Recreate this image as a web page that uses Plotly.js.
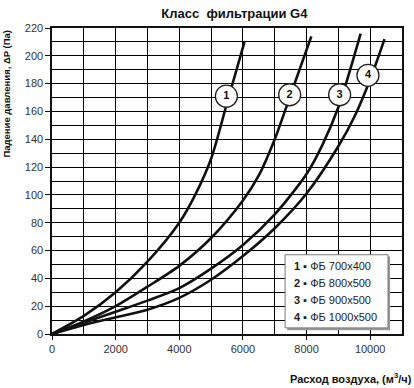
<!DOCTYPE html>
<html>
<head>
<meta charset="utf-8">
<script src="https://cdn.plot.ly/plotly-3.0.1.min.js"></script>
<style>html,body{margin:0;padding:0;background:#fff;}#chart{width:414px;height:388px;}</style>
</head>
<body>
<div id="chart"></div>
<script>
// Data
const flow1 = [0, 1000, 2000, 3000, 4000, 4500, 5000, 5500, 6050];
const dp1   = [0, 13, 30, 52, 80, 100, 126, 166, 210];

const flow2 = [0, 1000, 2000, 3000, 4000, 5000, 6000, 6500, 7000, 7500, 8150];
const dp2   = [0, 9, 20, 34, 49, 69, 96, 114, 140, 172, 214];

const flow3 = [0, 1000, 2000, 3000, 4000, 5000, 6000, 7000, 8000, 8500, 9000, 9700];
const dp3   = [0, 8, 16, 24, 33, 47, 64, 86, 115, 136, 163, 216];

const flow4 = [0, 1000, 2000, 3000, 4000, 5000, 6000, 7000, 8000, 9000, 9500, 10000, 10450];
const dp4   = [0, 6.5, 12, 17.5, 26, 39, 56, 76, 101, 135, 156, 183, 212];

const labelFlow = [5480, 7470, 9040, 9930];
const labelDp   = [171, 172, 172, 186];
const labelText = ['1', '2', '3', '4'];

const legendLines = [
  '<b>1 ▪</b> ФБ 700x400',
  '<b>2 ▪</b> ФБ 800x500',
  '<b>3 ▪</b> ФБ 900x500',
  '<b>4 ▪</b> ФБ 1000x500'
];

const FONT = '"Liberation Sans", Arial, sans-serif';
const curveStyle = {color: '#111', width: 2.6, shape: 'spline', smoothing: 0.8};

const traces = [
  {x: flow1, y: dp1, mode: 'lines', line: curveStyle, hoverinfo: 'skip'},
  {x: flow2, y: dp2, mode: 'lines', line: curveStyle, hoverinfo: 'skip'},
  {x: flow3, y: dp3, mode: 'lines', line: curveStyle, hoverinfo: 'skip'},
  {x: flow4, y: dp4, mode: 'lines', line: curveStyle, hoverinfo: 'skip'},
  {x: labelFlow, y: labelDp, mode: 'markers+text', text: labelText,
   textposition: 'middle center',
   textfont: {family: FONT, size: 11, color: '#111', weight: 'bold'},
   marker: {size: 22, color: '#fff', line: {color: '#222', width: 1.3}},
   hoverinfo: 'skip'}
];

const gridC = '#000';
const legendTop = 0.221, legendStep = 0.055;
const annotations = legendLines.map((t, i) => ({
  xref: 'x domain', yref: 'y domain', x: 0.686, y: legendTop - i * legendStep,
  xanchor: 'left', yanchor: 'middle', text: t, showarrow: false,
  font: {family: FONT, size: 11, color: '#222'}
}));
annotations.push({
  xref: 'paper', yref: 'paper', x: 1.035, y: -0.144, xanchor: 'right', yanchor: 'middle',
  text: '<b>Расход воздуха, (м<sup>3</sup>/ч)</b>', showarrow: false,
  font: {family: FONT, size: 11, color: '#111'}
});
annotations.push({
  xref: 'paper', yref: 'paper', x: -0.13, y: 0.784, xanchor: 'center', yanchor: 'middle',
  textangle: -90, text: '<b>Падение давления, ΔP (Па)</b>', showarrow: false,
  font: {family: FONT, size: 9.5, color: '#111'}
});

const layout = {
  width: 414, height: 388,
  margin: {l: 52, r: 12, t: 28, b: 54},
  paper_bgcolor: '#fff', plot_bgcolor: '#fff',
  showlegend: false,
  title: {text: '<b>Класс  фильтрации G4</b>', x: 0.521, xref: 'paper', xanchor: 'center',
          y: 0.966, yref: 'container', yanchor: 'middle',
          font: {family: FONT, size: 13, color: '#111'}},
  xaxis: {range: [0, 11000], dtick: 2000, tick0: 0, tickformat: 'd',
          showgrid: true, gridcolor: gridC, gridwidth: 1,
          minor: {dtick: 1000, showgrid: true, gridcolor: gridC, gridwidth: 1, ticks: ''},
          zeroline: false, showline: true, linecolor: '#111', linewidth: 1.6, mirror: true,
          ticks: 'outside', ticklen: 4, tickcolor: '#111', tickwidth: 1,
          tickfont: {family: FONT, size: 11, color: '#333'}, fixedrange: true},
  yaxis: {range: [0, 220], dtick: 20, tick0: 0, tickformat: 'd',
          showgrid: true, gridcolor: gridC, gridwidth: 1,
          minor: {dtick: 10, showgrid: true, gridcolor: gridC, gridwidth: 1, ticks: ''},
          zeroline: false, showline: true, linecolor: '#111', linewidth: 1.6, mirror: true,
          ticks: 'outside', ticklen: 5, tickcolor: '#111', tickwidth: 1,
          tickfont: {family: FONT, size: 11, color: '#333'}, fixedrange: true},
  shapes: [
    {type: 'rect', xref: 'x domain', yref: 'y domain', x0: 0.672, x1: 0.966, y0: 0.012, y1: 0.253,
     fillcolor: '#9a9a9a', line: {width: 0}, layer: 'above'},
    {type: 'rect', xref: 'x domain', yref: 'y domain', x0: 0.666, x1: 0.96, y0: 0.02, y1: 0.259,
     fillcolor: '#fff', line: {color: '#777', width: 1}, layer: 'above'}
  ],
  annotations: annotations
};

Plotly.newPlot('chart', traces, layout, {staticPlot: true, displayModeBar: false});
</script>
</body>
</html>
